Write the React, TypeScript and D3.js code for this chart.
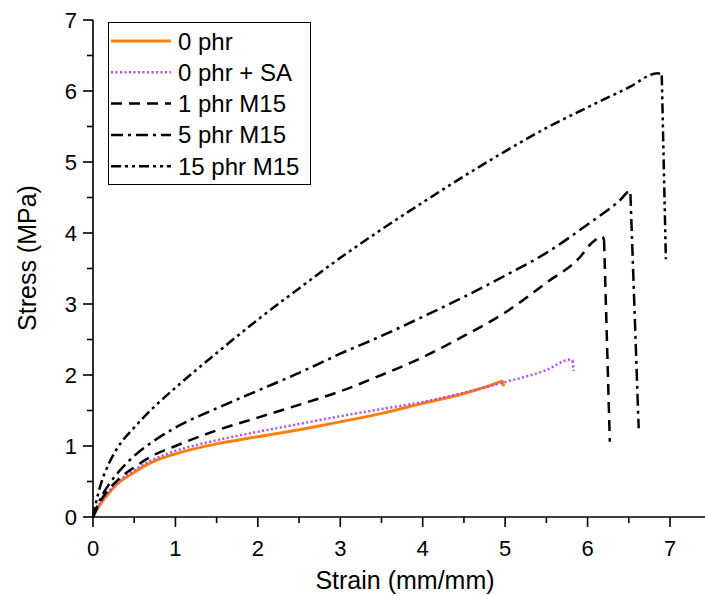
import React from "react";
import * as d3 from "d3";

type Pt = [number, number];

// Strain (mm/mm) vs stress (MPa) for each compound
const phr0: Pt[] = [
  [0, 0], [0.05, 0.11], [0.1, 0.2], [0.2, 0.35], [0.3, 0.47], [0.5, 0.63], [0.75, 0.79],
  [1, 0.89], [1.5, 1.03], [2, 1.13], [2.5, 1.23], [3, 1.34], [3.5, 1.46], [4, 1.6],
  [4.5, 1.74], [4.95, 1.91], [4.97, 1.92], [4.98, 1.84],
];
const phr0SA: Pt[] = [
  [0, 0], [0.05, 0.12], [0.1, 0.22], [0.2, 0.37], [0.3, 0.49], [0.5, 0.66], [0.75, 0.82],
  [1, 0.93], [1.5, 1.08], [2, 1.2], [2.5, 1.31], [3, 1.42], [3.5, 1.52], [4, 1.62],
  [4.5, 1.75], [5, 1.9], [5.5, 2.07], [5.8, 2.22], [5.82, 2.2], [5.83, 2.06],
];
const phr1M15: Pt[] = [
  [0, 0], [0.05, 0.13], [0.1, 0.24], [0.2, 0.4], [0.3, 0.52], [0.5, 0.7], [0.75, 0.88],
  [1, 1.0], [1.5, 1.22], [2, 1.4], [2.5, 1.58], [3, 1.77], [3.5, 2.0], [4, 2.25],
  [4.5, 2.55], [5, 2.88], [5.5, 3.3], [5.9, 3.65], [6.05, 3.86], [6.18, 3.95], [6.2, 3.9],
  [6.27, 1.06],
];
const phr5M15: Pt[] = [
  [0, 0], [0.05, 0.15], [0.1, 0.28], [0.2, 0.47], [0.3, 0.62], [0.5, 0.86], [0.75, 1.08],
  [1, 1.26], [1.5, 1.53], [2, 1.78], [2.5, 2.03], [3, 2.3], [3.5, 2.55], [4, 2.82],
  [4.5, 3.1], [5, 3.4], [5.5, 3.72], [6, 4.12], [6.4, 4.47], [6.5, 4.58], [6.52, 4.55],
  [6.62, 1.25],
];
const phr15M15: Pt[] = [
  [0, 0], [0.05, 0.27], [0.1, 0.48], [0.2, 0.77], [0.3, 0.98], [0.5, 1.26], [0.75, 1.56],
  [1, 1.82], [1.5, 2.31], [2, 2.78], [2.5, 3.22], [3, 3.65], [3.5, 4.05], [4, 4.43],
  [4.5, 4.8], [5, 5.15], [5.5, 5.48], [6, 5.77], [6.5, 6.05], [6.85, 6.25], [6.9, 6.22],
  [6.95, 3.63],
];

const seriesNames = ["0 phr", "0 phr + SA", "1 phr M15", "5 phr M15", "15 phr M15"];
const xTicks = [0, 1, 2, 3, 4, 5, 6, 7];
const yTicks = [0, 1, 2, 3, 4, 5, 6, 7];

const FONT = "Arial, 'Liberation Sans', Helvetica, sans-serif";

const series = [
  { name: seriesNames[0], data: phr0, color: "#ff7f0a", width: 3, dash: "" },
  { name: seriesNames[1], data: phr0SA, color: "#b14cf5", width: 2.5, dash: "2,2.5" },
  { name: seriesNames[2], data: phr1M15, color: "#000", width: 2.5, dash: "11,7" },
  { name: seriesNames[3], data: phr5M15, color: "#000", width: 2.5, dash: "12,5,3,5" },
  { name: seriesNames[4], data: phr15M15, color: "#000", width: 2.5, dash: "10,4,3,4,3,4" },
];

export default function App() {
  const W = 705;
  const H = 596;
  const left = 93;
  const top = 20;
  const bottom = 517;

  const x = d3.scaleLinear().domain([0, 7]).range([left, 670]);
  const y = d3.scaleLinear().domain([0, 7]).range([bottom, top]);
  const xEnd = x(7.5);

  const line = d3
    .line<Pt>()
    .x((d) => x(d[0]))
    .y((d) => y(d[1]))
    .curve(d3.curveMonotoneX);
  const lineLinear = d3
    .line<Pt>()
    .x((d) => x(d[0]))
    .y((d) => y(d[1]));

  const minorX = d3.range(0.5, 7.5, 1);
  const minorY = d3.range(0.5, 7, 1);

  const legX = 108.5;
  const legY = 22.5;
  const legW = 202;
  const legH = 162;
  const rowY = (i: number) => 41 + i * 31.3;

  return (
    <svg
      width={W}
      height={H}
      style={{ position: "absolute", left: 0, top: 0, background: "#fff" }}
      fontFamily={FONT}
    >
      <rect x={0} y={0} width={W} height={H} fill="#fff" />

      {/* curves */}
      {series.map((s) => {
        const n = s.data.length;
        // the smooth loading part, then the straight rupture drop
        const body = s.data.slice(0, n - 1);
        const tail = s.data.slice(n - 2);
        return (
          <g key={s.name} fill="none" stroke={s.color} strokeWidth={s.width} strokeDasharray={s.dash || undefined}>
            <path d={line(body) || ""} />
            <path d={lineLinear(tail) || ""} />
          </g>
        );
      })}

      {/* axes */}
      <g stroke="#000" strokeWidth={1.6}>
        <line x1={left} x2={left} y1={top} y2={bottom} />
        <line x1={left} x2={xEnd} y1={bottom} y2={bottom} />
        {xTicks.map((t) => (
          <line key={"xt" + t} x1={x(t)} x2={x(t)} y1={bottom} y2={bottom + 10} />
        ))}
        {minorX.map((t) => (
          <line key={"xm" + t} x1={x(t)} x2={x(t)} y1={bottom} y2={bottom + 6} />
        ))}
        {yTicks.map((t) => (
          <line key={"yt" + t} x1={left - 10} x2={left} y1={y(t)} y2={y(t)} />
        ))}
        {minorY.map((t) => (
          <line key={"ym" + t} x1={left - 6} x2={left} y1={y(t)} y2={y(t)} />
        ))}
      </g>

      <g fontSize={22} fill="#000">
        {xTicks.map((t) => (
          <text key={"xl" + t} x={x(t)} y={556} textAnchor="middle">
            {t}
          </text>
        ))}
        {yTicks.map((t) => (
          <text key={"yl" + t} x={77} y={y(t) + 8} textAnchor="end">
            {t}
          </text>
        ))}
      </g>

      <text x={405} y={589} fontSize={25} textAnchor="middle">
        Strain (mm/mm)
      </text>
      <text
        transform={`translate(36,258) rotate(-90)`}
        fontSize={25}
        textAnchor="middle"
      >
        Stress (MPa)
      </text>

      {/* legend */}
      <rect x={legX} y={legY} width={legW} height={legH} fill="#fff" stroke="#000" strokeWidth={1} />
      {series.map((s, i) => (
        <g key={"lg" + s.name}>
          <line
            x1={111}
            x2={171}
            y1={rowY(i)}
            y2={rowY(i)}
            stroke={s.color}
            strokeWidth={s.width}
            strokeDasharray={s.dash || undefined}
          />
          <text x={178} y={rowY(i) + 8.5} fontSize={24}>
            {s.name}
          </text>
        </g>
      ))}
    </svg>
  );
}
